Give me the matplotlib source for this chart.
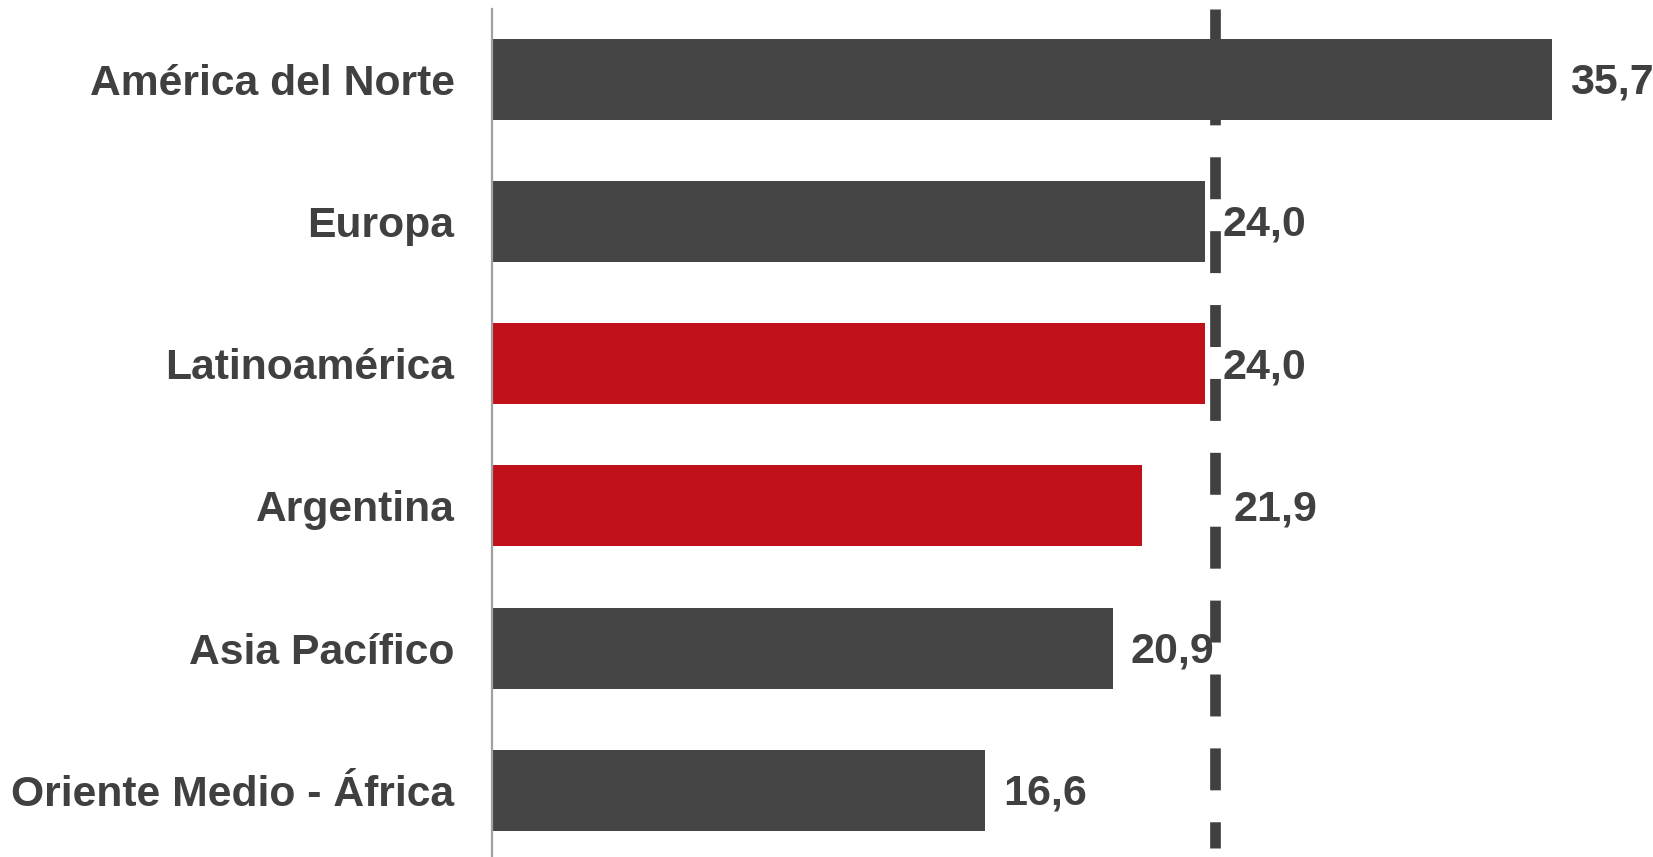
import matplotlib
matplotlib.use("Agg")
import matplotlib.pyplot as plt

plt.rcParams['font.family'] = ['Liberation Sans', 'DejaVu Sans']
plt.rcParams['lines.scale_dashes'] = False

categories = ["América del Norte", "Europa", "Latinoamérica", "Argentina",
              "Asia Pacífico", "Oriente Medio - África"]
values = [35.7, 24.0, 24.0, 21.9, 20.9, 16.6]
highlight = [False, False, True, True, False, False]
value_labels = ["35,7", "24,0", "24,0", "21,9", "20,9", "16,6"]
reference_value = 24.35

DARK = "#454545"
RED = "#C0111B"
TEXT = "#404040"

W, H = 1653, 857
fig = plt.figure(figsize=(W / 100, H / 100), dpi=100)
ax_left = 492 / W
ax_h = 852.7 / H
ax_bottom = (H - 8.55 - 852.7) / H
ax = fig.add_axes([ax_left, ax_bottom, 1 - ax_left, ax_h])

ypos = list(range(len(categories)))
colors = [RED if h else DARK for h in highlight]
ax.barh(ypos, values, height=0.57, color=colors, zorder=2)

ax.set_ylim(5.5, -0.5)
ax.set_xlim(0, 39.09)

# reference dashed line
ax.plot([reference_value, reference_value], [-0.5, 5.41], color="#404040",
        lw=7.7, dashes=(30.2, 23.0), solid_capstyle="butt",
        dash_capstyle="butt", zorder=1)

# value labels
for i, (v, lab) in enumerate(zip(values, value_labels)):
    extra = 2.45 if categories[i] == "Argentina" else 0.0
    ax.annotate(lab, xy=(v + extra, i), xytext=(13, -2.3), textcoords="offset points",
                ha="left", va="center", fontsize=31, fontweight="bold",
                color=TEXT, zorder=3)

ax.set_yticks(ypos)
ax.set_yticklabels(categories, fontsize=30.7, fontweight="bold", color=TEXT)
ax.tick_params(axis="y", length=0, pad=27)
ax.set_xticks([])

for s in ["top", "right", "bottom"]:
    ax.spines[s].set_visible(False)
ax.spines["left"].set_color("#A0A0A0")
ax.spines["left"].set_linewidth(1.6)

fig.savefig("out.png", dpi=100)
